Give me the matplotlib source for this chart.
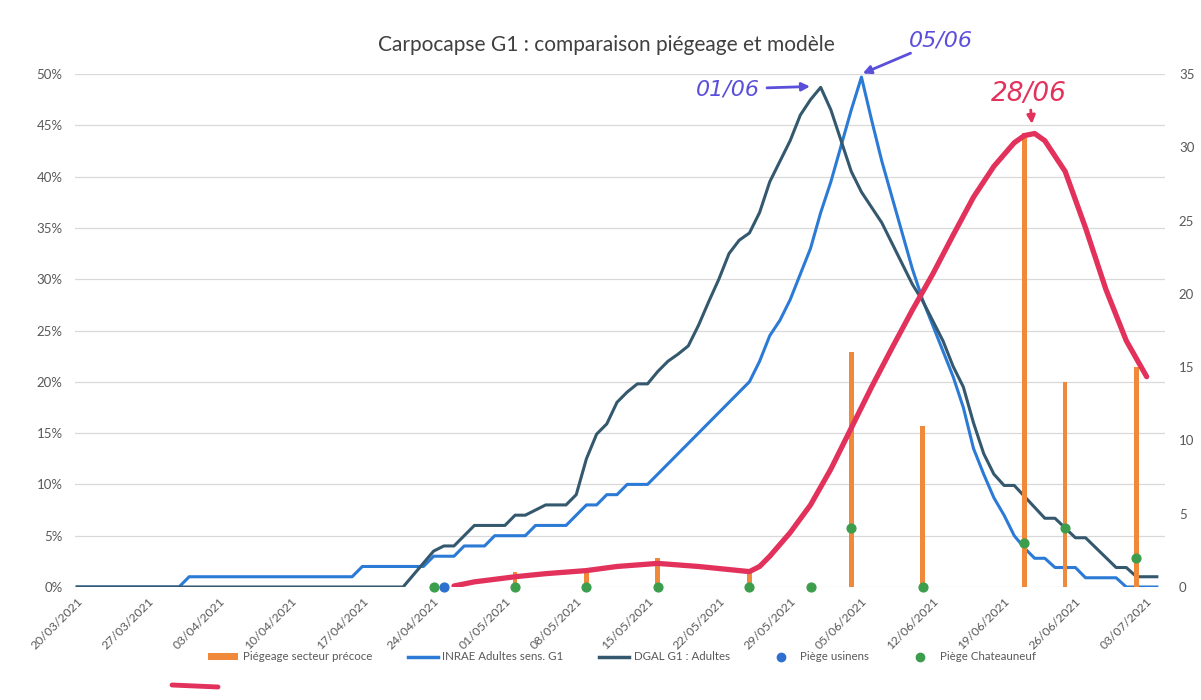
import matplotlib
matplotlib.use("Agg")
import matplotlib.pyplot as plt
from matplotlib.lines import Line2D
from matplotlib.patches import Patch
from matplotlib.ticker import MultipleLocator, FuncFormatter
import matplotlib.dates as mdates
import pandas as pd

# ---- data ----
inrae_dates = ["20/03", "30/03", "31/03", "16/04", "17/04", "23/04", "24/04", "26/04", "27/04",
               "29/04", "30/04", "03/05", "04/05", "07/05", "08/05", "09/05", "10/05", "11/05",
               "12/05", "13/05", "15/05", "25/05", "26/05", "27/05", "28/05", "29/05", "30/05",
               "31/05", "01/06", "02/06", "03/06", "04/06", "05/06", "06/06", "07/06", "08/06",
               "09/06", "10/06", "11/06", "12/06", "13/06", "14/06", "15/06", "16/06", "17/06",
               "18/06", "19/06", "20/06", "21/06", "22/06", "23/06", "24/06", "26/06", "27/06",
               "30/06", "01/07", "04/07"]
inrae_vals = [0, 0, 1, 1, 2, 2, 3, 3, 4,
              4, 5, 5, 6, 6, 7, 8, 8, 9,
              9, 10, 10, 20, 22, 24.5, 26, 28, 30.5,
              33, 36.5, 39.5, 43, 46.5, 49.7, 45.5, 41.5, 38,
              34.5, 31, 28, 25.5, 23, 20.5, 17.5, 13.5, 11,
              8.7, 7, 5, 3.8, 2.8, 2.8, 1.9, 1.9, 0.9,
              0.9, 0, 0]

dgal_dates = ["20/03", "21/04", "24/04", "25/04", "26/04", "27/04", "28/04", "01/05", "02/05",
              "03/05", "05/05", "07/05", "08/05", "09/05", "10/05", "11/05", "12/05", "13/05",
              "14/05", "15/05", "16/05", "17/05", "18/05", "19/05", "20/05", "21/05", "22/05",
              "23/05", "24/05", "25/05", "26/05", "27/05", "28/05", "29/05", "30/05", "31/05",
              "01/06", "02/06", "03/06", "04/06", "05/06", "06/06", "07/06", "08/06", "09/06",
              "10/06", "11/06", "13/06", "14/06", "15/06", "16/06", "17/06", "18/06", "19/06",
              "20/06", "23/06", "24/06", "26/06", "27/06", "30/06", "01/07", "02/07", "04/07"]
dgal_vals = [0, 0, 3.5, 4, 4, 5, 6, 6, 7,
             7, 8, 8, 9, 12.5, 14.9, 15.9, 18, 19,
             19.8, 19.8, 21, 22, 22.7, 23.5, 25.5, 27.8, 30,
             32.5, 33.8, 34.5, 36.5, 39.5, 41.5, 43.5, 46, 47.5,
             48.7, 46.5, 43.5, 40.5, 38.5, 37, 35.5, 33.5, 31.5,
             29.5, 27.9, 24, 21.5, 19.5, 16, 13, 11, 9.9,
             9.9, 6.7, 6.7, 4.8, 4.8, 1.9, 1.9, 1.0, 1.0]

# hand-drawn red curve (left axis, %)
red_dates = ["26/04", "28/04", "02/05", "05/05", "09/05", "12/05", "16/05", "20/05", "23/05",
             "25/05", "26/05", "27/05", "29/05", "31/05", "02/06", "04/06", "06/06", "08/06",
             "10/06", "12/06", "14/06", "16/06", "18/06", "20/06", "21/06", "22/06", "23/06",
             "25/06", "27/06", "29/06", "01/07", "03/07"]
red_vals = [0.1, 0.5, 1.0, 1.3, 1.6, 2.0, 2.3, 2.0, 1.7,
            1.5, 2.0, 3.0, 5.3, 8.0, 11.5, 15.5, 19.5, 23.3,
            27.0, 30.5, 34.3, 38.0, 41.0, 43.3, 44.0, 44.2, 43.5,
            40.5, 35.0, 29.0, 24.0, 20.5]

# right axis (counts)
trap_dates = ["02/05", "09/05", "16/05", "25/05", "04/06", "11/06", "21/06", "25/06", "02/07"]
trap_vals = [1, 1, 2, 1, 16, 11, 31, 14, 15]

chat_dates = ["24/04", "02/05", "09/05", "16/05", "25/05", "31/05", "04/06", "11/06", "21/06",
              "25/06", "02/07"]
chat_vals = [0, 0, 0, 0, 0, 0, 4, 0, 3, 4, 2]

usin_dates = ["25/04"]
usin_vals = [0]


def to_dates(lst):
    return pd.to_datetime([s + "/2021" for s in lst], format="%d/%m/%Y")


c_inrae = "#2B7BD6"
c_dgal = "#34586E"
c_orange = "#F08A3A"
c_green = "#3C9E4C"
c_blue_dot = "#2F6FD0"
c_red = "#E2325C"
c_hand = "#5A4FDA"
c_text = "#595959"

plt.rcParams["font.family"] = ["Lato", "DejaVu Sans"]

W, H = 1201, 700
fig = plt.figure(figsize=(W / 100, H / 100), dpi=100)
ax = fig.add_axes([75 / W, (H - 587) / H, (1165 - 75) / W, (587 - 74) / H])
ax2 = ax.twinx()

start = pd.Timestamp("2021-03-20")
ax.set_xlim(start - pd.Timedelta(hours=5), start + pd.Timedelta(days=106.8))
ax.set_ylim(0, 50)
ax2.set_ylim(0, 35)

ax.plot(to_dates(inrae_dates), inrae_vals, color=c_inrae, lw=2.2, zorder=3)
ax.plot(to_dates(dgal_dates), dgal_vals, color=c_dgal, lw=2.2, zorder=3)

ax2.bar(to_dates(trap_dates), trap_vals, width=0.45, color=c_orange, zorder=2)
ax2.scatter(to_dates(chat_dates), chat_vals, s=40, color=c_green, zorder=4, clip_on=False)
ax2.scatter(to_dates(usin_dates), usin_vals, s=40, color=c_blue_dot, zorder=4, clip_on=False)

# hand-drawn curve on top of everything
ax2.plot(to_dates(red_dates), red_vals, color=c_red, lw=3.8, transform=ax.transData,
         solid_capstyle="round", solid_joinstyle="round", zorder=6)

# axes styling
for a in (ax, ax2):
    for s in a.spines.values():
        s.set_visible(False)
ax.yaxis.set_major_locator(MultipleLocator(5))
ax.yaxis.set_major_formatter(FuncFormatter(lambda v, p: f"{v:.0f}%"))
ax2.yaxis.set_major_locator(MultipleLocator(5))
ax.yaxis.grid(True, color="#D9D9D9", lw=0.9)
ax.set_axisbelow(True)
ax.tick_params(axis="y", length=0, pad=9, labelsize=9.5, labelcolor=c_text)
ax2.tick_params(axis="y", length=0, pad=10, labelsize=9.5, labelcolor=c_text)

ticks = pd.date_range("2021-03-20", "2021-07-03", freq="7D")
ax.set_xticks(ticks)
ax.xaxis.set_major_formatter(mdates.DateFormatter("%d/%m/%Y"))
ax.tick_params(axis="x", length=0, pad=6, labelsize=8.8, labelcolor=c_text)
for lab in ax.get_xticklabels():
    lab.set_rotation(45)
    lab.set_ha("right")
    lab.set_rotation_mode("anchor")

fig.text(606 / W, 1 - 45 / H, "Carpocapse G1 : comparaison piégeage et modèle",
         ha="center", va="center", fontsize=15, color="#404040")

# handwritten annotations
hand = dict(style="italic", family="DejaVu Sans")
ax.annotate("01/06", xy=(pd.Timestamp("2021-05-31 12:00"), 48.8), xycoords="data",
            xytext=(-40, -2), textcoords="offset points", color=c_hand, ha="right", va="center",
            fontsize=16,
            arrowprops=dict(arrowstyle="-|>", color=c_hand, lw=2, mutation_scale=12,
                            shrinkA=3, shrinkB=4), **hand)
ax.annotate("05/06", xy=(pd.Timestamp("2021-06-05"), 50), xycoords="data",
            xytext=(34, 17), textcoords="offset points", color=c_hand, ha="left", va="bottom",
            fontsize=16,
            arrowprops=dict(arrowstyle="-|>", color=c_hand, lw=2, mutation_scale=12,
                            shrinkA=0, shrinkB=1), annotation_clip=False, **hand)
ax.annotate("28/06", xy=(pd.Timestamp("2021-06-21 18:00"), 45.0), xycoords="data",
            xytext=(-2, 13), textcoords="offset points", color=c_red, ha="center", va="bottom",
            fontsize=19,
            arrowprops=dict(arrowstyle="-|>", color=c_red, lw=2, mutation_scale=12,
                            shrinkA=0, shrinkB=1), annotation_clip=False, **hand)

# legend
handles = [
    Patch(facecolor=c_orange, edgecolor="none"),
    Line2D([], [], color=c_inrae, lw=2.5),
    Line2D([], [], color=c_dgal, lw=2.5),
    Line2D([], [], color=c_blue_dot, marker="o", ls="none", markersize=6),
    Line2D([], [], color=c_green, marker="o", ls="none", markersize=6),
]
labels = ["Piégeage secteur précoce", "INRAE Adultes sens. G1", "DGAL G1 : Adultes",
          "Piège usinens", "Piège Chateauneuf"]
leg = fig.legend(handles, labels, loc="center", bbox_to_anchor=(622 / W, 1 - 657 / H),
                 ncol=5, frameon=False, fontsize=8.3, handlelength=2.6, handleheight=0.6,
                 columnspacing=3.1, handletextpad=0.4)
for t in leg.get_texts():
    t.set_color(c_text)

# red pen stroke under the legend
fig.add_artist(Line2D([172 / W, 218 / W], [1 - 685 / H, 1 - 687 / H], color=c_red, lw=3.5,
                      solid_capstyle="round"))

fig.savefig("out.png", dpi=100)
